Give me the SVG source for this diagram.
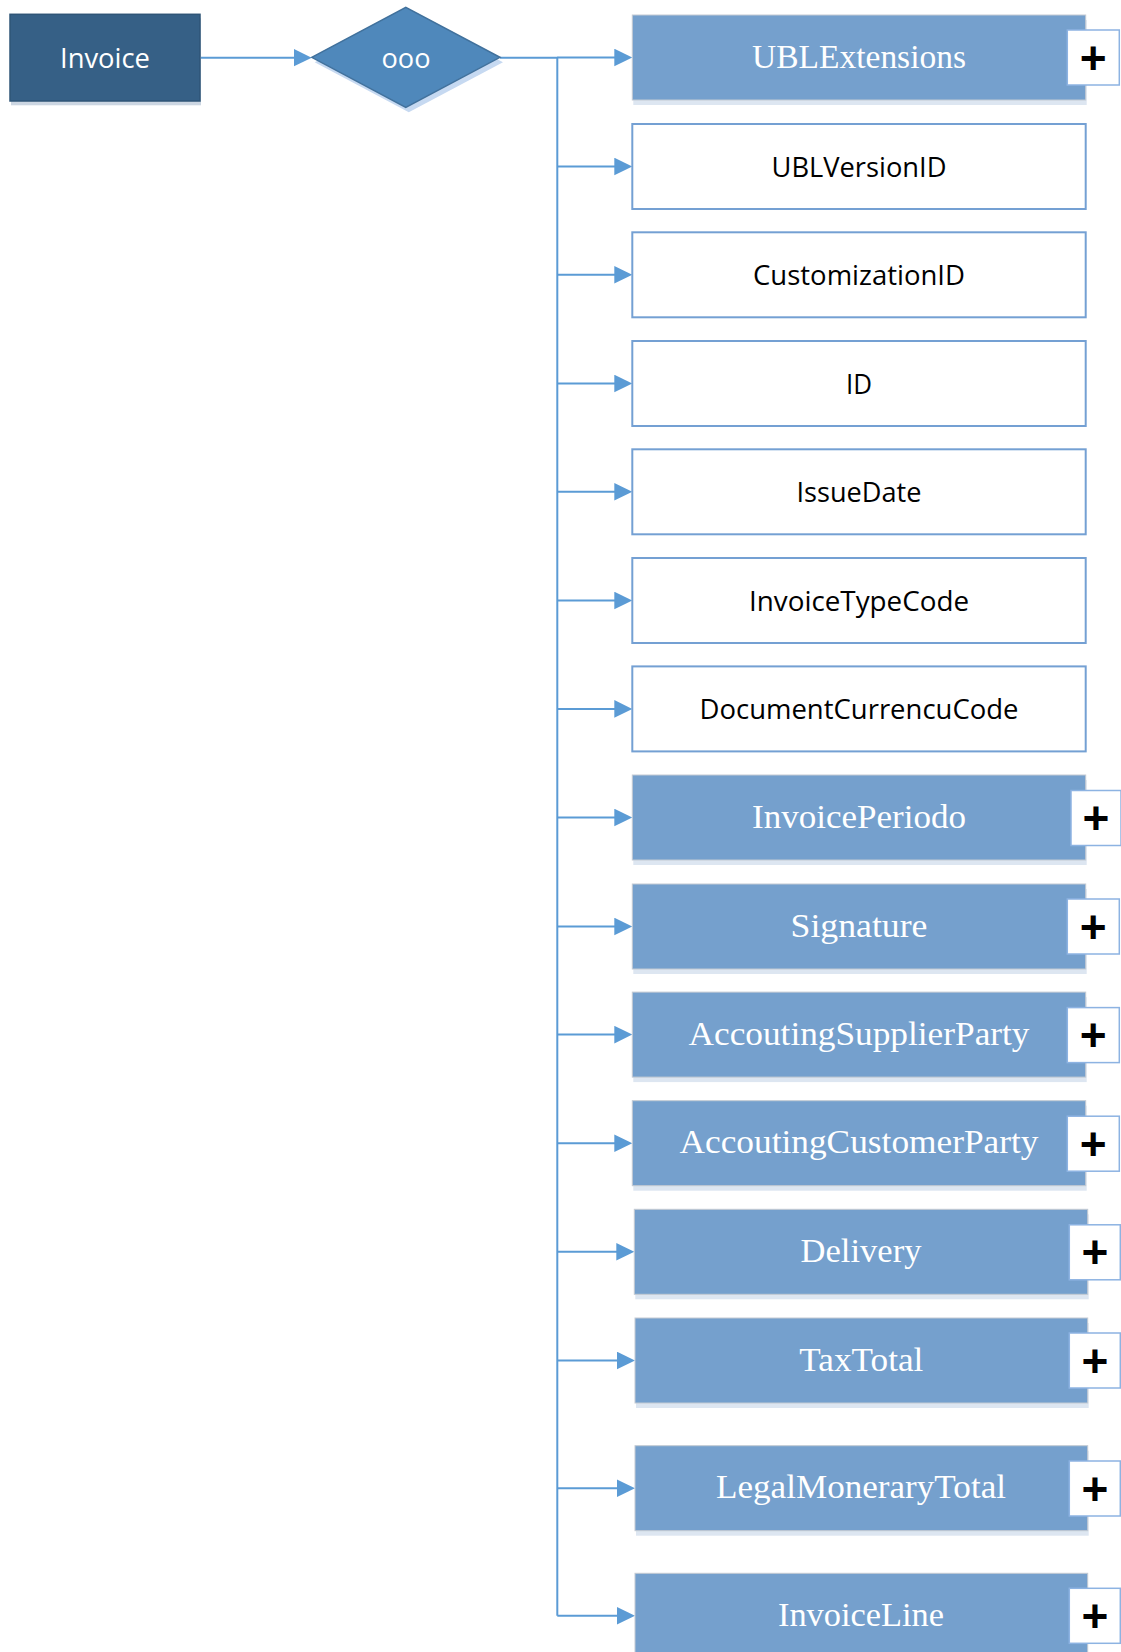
<svg xmlns="http://www.w3.org/2000/svg" width="1121" height="1652" viewBox="0 0 1121 1652">
<defs>
<marker id="arr" markerUnits="userSpaceOnUse" markerWidth="20" markerHeight="20" refX="1" refY="8.8" orient="auto">
<path d="M0,0 L18,8.8 L0,17.6 z" fill="#5B9BD5"/>
</marker>
<style>
.conn{fill:none;stroke:#5B9BD5;stroke-width:2}
.plain{fill:#ffffff;stroke:#74A0D3;stroke-width:2}
.fill{fill:#75A0CD;stroke:#C3CAD3;stroke-width:1}
.shadow{fill:#DDE6F1}
.pbox{fill:#ffffff;stroke:#8DB3E2;stroke-width:1.5}
.sans{font-family:"Open Sans","Noto Sans",sans-serif;font-size:27px;text-anchor:middle}
.serif{font-family:"Liberation Serif",serif;font-size:33px;fill:#ffffff;text-anchor:middle}
.plus{font-family:"Liberation Sans",Arial,sans-serif;font-weight:bold;font-size:46px;fill:#000000;text-anchor:middle}
</style>
</defs>
<rect width="1121" height="1652" fill="#ffffff"/>

<g id="connectors">
<path class="conn" d="M200,57.7 H294.7" marker-end="url(#arr)"/>
<path class="conn" d="M500,57.7 H557.3 V1615.8"/>
<path class="conn" d="M557.3,57.5 H615.3" marker-end="url(#arr)"/>
<path class="conn" d="M557.3,166.5 H615.3" marker-end="url(#arr)"/>
<path class="conn" d="M557.3,274.8 H615.3" marker-end="url(#arr)"/>
<path class="conn" d="M557.3,383.5 H615.3" marker-end="url(#arr)"/>
<path class="conn" d="M557.3,491.8 H615.3" marker-end="url(#arr)"/>
<path class="conn" d="M557.3,600.5 H615.3" marker-end="url(#arr)"/>
<path class="conn" d="M557.3,708.9 H615.3" marker-end="url(#arr)"/>
<path class="conn" d="M557.3,817.5 H615.3" marker-end="url(#arr)"/>
<path class="conn" d="M557.3,926.5 H615.3" marker-end="url(#arr)"/>
<path class="conn" d="M557.3,1034.6 H615.3" marker-end="url(#arr)"/>
<path class="conn" d="M557.3,1143.2 H615.3" marker-end="url(#arr)"/>
<path class="conn" d="M557.3,1251.8 H617.3" marker-end="url(#arr)"/>
<path class="conn" d="M557.3,1360.5 H618" marker-end="url(#arr)"/>
<path class="conn" d="M557.3,1488.2 H618" marker-end="url(#arr)"/>
<path class="conn" d="M557.3,1615.8 H618" marker-end="url(#arr)"/>
</g>

<g id="node-invoice">
<rect x="11" y="18.3" width="190" height="87" fill="#CCD6E2"/>
<rect x="10" y="14.3" width="190" height="86.7" fill="#366086" stroke="#2F5577" stroke-width="1.5"/>
<text class="sans" x="105" y="68" fill="#ffffff" textLength="90" lengthAdjust="spacingAndGlyphs">Invoice</text>
</g>

<g id="node-sequence">
<polygon points="314.7,62.3 408.8,12.3 503,62.3 408.8,112.3" fill="#C6D9F1"/>
<polygon points="311.7,57.3 405.8,7.3 500,57.3 405.8,107.3" fill="#4F88BB" stroke="#41719C" stroke-width="1.5"/>
<text class="sans" x="406" y="68" fill="#ffffff" textLength="49" lengthAdjust="spacingAndGlyphs">ooo</text>
</g>

<g id="node-UBLExtensions">
<rect class="shadow" x="633.3" y="20" width="453.4" height="85"/>
<rect class="fill" x="632.3" y="15" width="453.4" height="85"/>
<text class="serif" x="859" y="67.5" textLength="214" lengthAdjust="spacingAndGlyphs">UBLExtensions</text>
<rect class="pbox" x="1067.3" y="30" width="52" height="55"/>
<text class="plus" x="1093.3" y="73.5">+</text>
</g>

<g id="node-UBLVersionID">
<rect class="plain" x="632.3" y="124" width="453.4" height="85"/>
<text class="sans" x="859" y="176.5" textLength="175" lengthAdjust="spacingAndGlyphs">UBLVersionID</text>
</g>

<g id="node-CustomizationID">
<rect class="plain" x="632.3" y="232.3" width="453.4" height="85"/>
<text class="sans" x="859" y="284.8" textLength="212" lengthAdjust="spacingAndGlyphs">CustomizationID</text>
</g>

<g id="node-ID">
<rect class="plain" x="632.3" y="341" width="453.4" height="85"/>
<text class="sans" x="859" y="393.5" textLength="26" lengthAdjust="spacingAndGlyphs">ID</text>
</g>

<g id="node-IssueDate">
<rect class="plain" x="632.3" y="449.3" width="453.4" height="85"/>
<text class="sans" x="859" y="501.8" textLength="125" lengthAdjust="spacingAndGlyphs">IssueDate</text>
</g>

<g id="node-InvoiceTypeCode">
<rect class="plain" x="632.3" y="558" width="453.4" height="85"/>
<text class="sans" x="859" y="610.5" textLength="220" lengthAdjust="spacingAndGlyphs">InvoiceTypeCode</text>
</g>

<g id="node-DocumentCurrencuCode">
<rect class="plain" x="632.3" y="666.4" width="453.4" height="85"/>
<text class="sans" x="859" y="718.9" textLength="319" lengthAdjust="spacingAndGlyphs">DocumentCurrencuCode</text>
</g>

<g id="node-InvoicePeriodo">
<rect class="shadow" x="633.3" y="780" width="453.4" height="85"/>
<rect class="fill" x="632.3" y="775" width="453.4" height="85"/>
<text class="serif" x="859" y="827.5" textLength="214" lengthAdjust="spacingAndGlyphs">InvoicePeriodo</text>
<rect class="pbox" x="1071" y="790.5" width="50" height="55"/>
<text class="plus" x="1096" y="834">+</text>
</g>

<g id="node-Signature">
<rect class="shadow" x="633.3" y="889" width="453.4" height="85"/>
<rect class="fill" x="632.3" y="884" width="453.4" height="85"/>
<text class="serif" x="859" y="936.5" textLength="137" lengthAdjust="spacingAndGlyphs">Signature</text>
<rect class="pbox" x="1067.3" y="899" width="52" height="55"/>
<text class="plus" x="1093.3" y="942.5">+</text>
</g>

<g id="node-AccoutingSupplierParty">
<rect class="shadow" x="633.3" y="997.1" width="453.4" height="85"/>
<rect class="fill" x="632.3" y="992.1" width="453.4" height="85"/>
<text class="serif" x="859" y="1044.6" textLength="341" lengthAdjust="spacingAndGlyphs">AccoutingSupplierParty</text>
<rect class="pbox" x="1067.3" y="1007.6" width="52" height="55"/>
<text class="plus" x="1093.3" y="1051">+</text>
</g>

<g id="node-AccoutingCustomerParty">
<rect class="shadow" x="633.3" y="1105.7" width="453.4" height="85"/>
<rect class="fill" x="632.3" y="1100.7" width="453.4" height="85"/>
<text class="serif" x="859" y="1153.2" textLength="359" lengthAdjust="spacingAndGlyphs">AccoutingCustomerParty</text>
<rect class="pbox" x="1067.3" y="1116.2" width="52" height="55"/>
<text class="plus" x="1093.3" y="1159.7">+</text>
</g>

<g id="node-Delivery">
<rect class="shadow" x="635.3" y="1214.3" width="453.4" height="85"/>
<rect class="fill" x="634.3" y="1209.3" width="453.4" height="85"/>
<text class="serif" x="861" y="1261.8" textLength="121" lengthAdjust="spacingAndGlyphs">Delivery</text>
<rect class="pbox" x="1069.3" y="1224.8" width="51" height="55"/>
<text class="plus" x="1095" y="1268.3">+</text>
</g>

<g id="node-TaxTotal">
<rect class="shadow" x="636" y="1323" width="452.7" height="85"/>
<rect class="fill" x="635" y="1318" width="452.7" height="85"/>
<text class="serif" x="861.3" y="1370.5" textLength="124" lengthAdjust="spacingAndGlyphs">TaxTotal</text>
<rect class="pbox" x="1069.3" y="1333" width="51" height="55"/>
<text class="plus" x="1095" y="1376.5">+</text>
</g>

<g id="node-LegalMoneraryTotal">
<rect class="shadow" x="636" y="1450.7" width="452.7" height="85"/>
<rect class="fill" x="635" y="1445.7" width="452.7" height="85"/>
<text class="serif" x="861" y="1498.2" textLength="290" lengthAdjust="spacingAndGlyphs">LegalMoneraryTotal</text>
<rect class="pbox" x="1069.3" y="1461" width="51" height="55"/>
<text class="plus" x="1095" y="1504.5">+</text>
</g>

<g id="node-InvoiceLine">
<rect class="fill" x="635" y="1573.3" width="452.7" height="90"/>
<text class="serif" x="861" y="1625.8" textLength="166" lengthAdjust="spacingAndGlyphs">InvoiceLine</text>
<rect class="pbox" x="1069.3" y="1588.3" width="51" height="55"/>
<text class="plus" x="1095" y="1631.8">+</text>
</g>
</svg>
